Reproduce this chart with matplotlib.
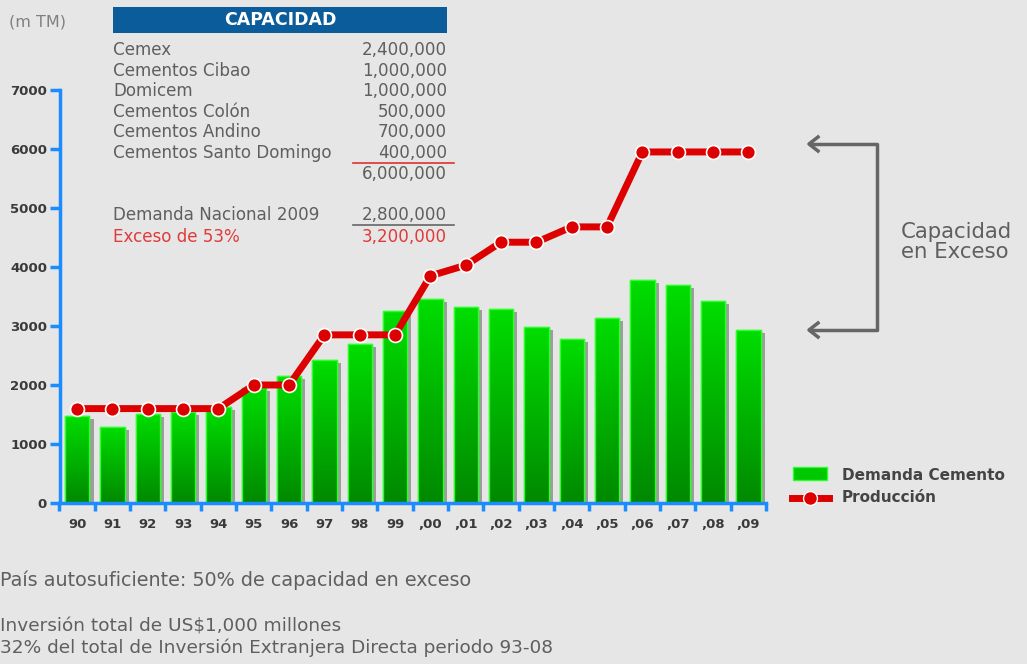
import matplotlib.pyplot as plt
import matplotlib.patheffects as pe
import numpy as np
from matplotlib.colors import LinearSegmentedColormap
from matplotlib.lines import Line2D
from matplotlib.patches import Rectangle

plt.rcParams['font.family'] = ['DejaVu Sans']

years = ['90', '91', '92', '93', '94', '95', '96', '97', '98', '99',
         ',00', ',01', ',02', ',03', ',04', ',05', ',06', ',07', ',08', ',09']
demanda = [1470, 1290, 1510, 1540, 1620, 1950, 2150, 2420, 2690, 3250,
           3460, 3320, 3290, 2980, 2780, 3140, 3780, 3690, 3420, 2930]
produccion = [1600, 1600, 1600, 1600, 1600, 2000, 2000, 2850, 2850, 2850,
              3850, 4030, 4420, 4420, 4680, 4680, 5950, 5950, 5950, 5950]

empresas = ['Cemex', 'Cementos Cibao', 'Domicem', 'Cementos Colón',
            'Cementos Andino', 'Cementos Santo Domingo']
capacidad = ['2,400,000', '1,000,000', '1,000,000', '500,000', '700,000', '400,000']
total_cap = '6,000,000'
demanda_2009 = '2,800,000'
exceso = '3,200,000'

W, H = 1027, 664
BG = '#e6e6e6'
BLUE = '#1a8cff'
GRAY = '#5f5f5f'
RED = '#dd0000'
TXT = 12.1


def fx(px):
    return px / W


def fy(py):
    return 1 - py / H


fig = plt.figure(figsize=(W / 100, H / 100), dpi=100, facecolor=BG)
ax = fig.add_axes([fx(59.5), fy(503), fx(766) - fx(59.5), fy(90) - fy(503)])
ax.set_facecolor(BG)
ax.set_xlim(-0.5, len(years) - 0.5)
ax.set_ylim(0, 7000)

x = np.arange(len(years))
cmap = LinearSegmentedColormap.from_list('g', ['#008800', '#00de00'])
grad = np.linspace(0, 1, 256).reshape(-1, 1)
bars = ax.bar(x, demanda, width=0.69, color='#00c000', edgecolor='#2cff2c',
              linewidth=1, zorder=2,
              path_effects=[pe.SimplePatchShadow(offset=(3, -2), shadow_rgbFace='#555555', alpha=0.5),
                            pe.Normal()])
for b in bars:
    x0, w, h = b.get_x(), b.get_width(), b.get_height()
    im = ax.imshow(grad, cmap=cmap, extent=[x0, x0 + w, 0, h], origin='lower',
                   aspect='auto', zorder=2.1)
    im.set_clip_path(b)
    ax.add_patch(Rectangle((x0, 0), w, h, fill=False, edgecolor='#2cff2c',
                           linewidth=1, zorder=2.2))

ax.plot(x, produccion, color=RED, linewidth=5, zorder=3, solid_capstyle='round')
ax.plot(x, produccion, 'o', color=RED, markersize=10, markeredgecolor='white',
        markeredgewidth=1.2, zorder=4)

ax.set_xlim(-0.5, len(years) - 0.5)
ax.set_ylim(0, 7000)

for s in ['top', 'right']:
    ax.spines[s].set_visible(False)
for s in ['left', 'bottom']:
    ax.spines[s].set_color(BLUE)
    ax.spines[s].set_linewidth(2.5)

ax.set_yticks(range(0, 7001, 1000))
ax.set_yticklabels([str(v) for v in range(0, 7001, 1000)], fontsize=9.5,
                   fontweight='bold', color='#3a3a3a')
ax.tick_params(axis='y', direction='out', length=7, width=2.5, color=BLUE, pad=2)
ax.set_xticks(x)
ax.set_xticklabels(years, fontsize=9.5, fontweight='bold', color='#3a3a3a')
ax.tick_params(axis='x', which='major', length=0, pad=11)
ax.set_xticks(np.arange(-0.5, len(years) + 0.5, 1), minor=True)
ax.tick_params(axis='x', which='minor', direction='out', length=6, width=2.5, color=BLUE)

# units label
fig.text(fx(9), fy(22), '(m TM)', fontsize=11.5, color='#808080', va='center')

# capacity table
fig.patches.append(Rectangle((fx(113), fy(33)), fx(447) - fx(113), fy(7) - fy(33),
                             transform=fig.transFigure, facecolor='#0b5c9a',
                             edgecolor='none'))
fig.text(fx(280), fy(20), 'CAPACIDAD', fontsize=12.5, fontweight='bold', color='white',
         ha='center', va='center')
row_y = [50, 71, 91, 112, 132, 153]
for name, val, yy in zip(empresas, capacidad, row_y):
    fig.text(fx(113), fy(yy), name, fontsize=TXT, color=GRAY, va='center')
    fig.text(fx(447), fy(yy), val, fontsize=TXT, color=GRAY, va='center', ha='right')
fig.lines.append(Line2D([fx(353), fx(454)], [fy(163), fy(163)], transform=fig.transFigure,
                        color='#e03030', linewidth=1.2))
fig.text(fx(447), fy(174), total_cap, fontsize=TXT, color=GRAY, va='center', ha='right')
fig.text(fx(113), fy(215), 'Demanda Nacional 2009', fontsize=TXT, color=GRAY, va='center')
fig.text(fx(447), fy(215), demanda_2009, fontsize=TXT, color=GRAY, va='center', ha='right')
fig.lines.append(Line2D([fx(353), fx(454)], [fy(225), fy(225)], transform=fig.transFigure,
                        color='#666666', linewidth=1.2))
fig.text(fx(113), fy(237), 'Exceso de 53%', fontsize=TXT, color='#e03a3a', va='center')
fig.text(fx(447), fy(237), exceso, fontsize=TXT, color='#e03a3a', va='center', ha='right')

# bracket with arrows
bx = [fx(812), fx(877), fx(877), fx(812)]
by = [fy(144), fy(144), fy(330), fy(330)]
fig.lines.append(Line2D(bx, by, transform=fig.transFigure, color='#666666', linewidth=2.5))
for yy in (144, 330):
    fig.lines.append(Line2D([fx(818), fx(809), fx(818)], [fy(yy - 7), fy(yy), fy(yy + 7)],
                            transform=fig.transFigure, color='#666666', linewidth=2.5))
fig.text(fx(901), fy(242), 'Capacidad\nen Exceso', fontsize=15.3, color=GRAY, va='center',
         linespacing=1.0)

# legend
fig.patches.append(Rectangle((fx(793), fy(480)), fx(34), fy(467) - fy(480),
                             transform=fig.transFigure, facecolor='#00c800',
                             edgecolor='#2cff2c', linewidth=1))
fig.lines.append(Line2D([fx(792), fx(829)], [fy(498), fy(498)], transform=fig.transFigure,
                        color=RED, linewidth=5))
fig.lines.append(Line2D([fx(810)], [fy(498)], transform=fig.transFigure, marker='o',
                        color=RED, markersize=10, markeredgecolor='white'))
fig.text(fx(842), fy(475), 'Demanda Cemento', fontsize=11, fontweight='bold',
         color='#444444', va='center')
fig.text(fx(842), fy(498), 'Producción', fontsize=11, fontweight='bold',
         color='#444444', va='center')

# notes
fig.text(fx(0), fy(580), 'País autosuficiente: 50% de capacidad en exceso', fontsize=13.8,
         color=GRAY, va='center')
fig.text(fx(0), fy(627), 'Inversión total de US$1,000 millones', fontsize=13.3,
         color=GRAY, va='center')
fig.text(fx(0), fy(648), '32% del total de Inversión Extranjera Directa periodo 93-08',
         fontsize=13.3, color=GRAY, va='center')

fig.savefig('out.png', dpi=100, facecolor=BG)
